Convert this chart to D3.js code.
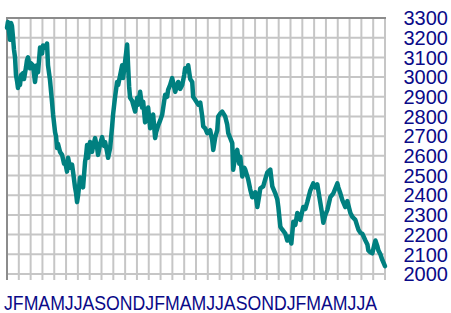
<!DOCTYPE html>
<html>
<head>
<meta charset="utf-8">
<script src="https://cdn.jsdelivr.net/npm/d3@7/dist/d3.min.js"></script>
<style>
  body { margin: 0; background: #fff; }
  svg { display: block; }
</style>
</head>
<body>
<div id="chart"></div>
<script>
// month initials along the bottom, Jan of year 1 .. Aug of year 3
var monthLabels = "JFMAMJJASONDJFMAMJJASONDJFMAMJJA".split("");
var yTicks = [2000, 2100, 2200, 2300, 2400, 2500, 2600, 2700, 2800, 2900, 3000, 3100, 3200, 3300];

// time in months from start of Jan year 1
var months = [0, 0.08, 0.17, 0.25, 0.34, 0.42, 0.51, 0.59, 0.68, 0.76, 0.85, 0.93, 1.02, 1.10, 1.19, 1.36, 1.44, 1.61, 1.69, 1.78,
  1.95, 2.03, 2.20, 2.37, 2.54, 2.63, 2.80, 2.97, 3.05, 3.22, 3.39, 3.47, 3.64, 3.81, 3.90, 4.07, 4.15, 4.24, 4.32, 4.49,
  4.66, 4.83, 4.92, 5.08, 5.17, 5.34, 5.51, 5.59, 5.76, 5.85, 5.93, 6.02, 6.19, 6.27, 6.44, 6.61, 6.69, 6.78, 6.86, 7.03,
  7.20, 7.29, 7.46, 7.63, 7.71, 7.88, 8.05, 8.22, 8.31, 8.47, 8.56, 8.73, 8.90, 8.98, 9.15, 9.32, 9.41, 9.58, 9.75, 9.83,
  10.00, 10.17, 10.25, 10.34, 10.42, 10.59, 10.68, 10.85, 11.02, 11.10, 11.27, 11.44, 11.53, 11.69, 11.86, 11.95, 12.12, 12.29, 12.37, 12.54,
  12.63, 12.80, 12.97, 13.14, 13.31, 13.39, 13.56, 13.64, 13.81, 13.98, 14.15, 14.24, 14.41, 14.49, 14.66, 14.83, 15.00, 15.08, 15.25, 15.34,
  15.51, 15.68, 15.76, 15.93, 16.19, 16.36, 16.53, 16.61, 16.78, 16.95, 17.20, 17.37, 17.46, 17.63, 17.80, 17.88, 18.05, 18.22, 18.47, 18.64,
  18.73, 18.90, 19.07, 19.15, 19.32, 19.49, 19.66, 19.75, 19.92, 20.08, 20.17, 20.42, 20.59, 20.76, 21.02, 21.10, 21.19, 21.36, 21.44, 21.69,
  21.86, 22.03, 22.29, 22.46, 22.71, 22.88, 22.97, 23.14, 23.31, 23.56, 23.73, 23.90, 24.07, 24.24, 24.41, 24.58, 24.83, 25.08, 25.25, 25.42,
  25.68, 25.93, 26.10, 26.27, 26.53, 26.69, 26.78, 26.95, 27.12, 27.37, 27.63, 27.97, 28.05, 28.22, 28.39, 28.64, 28.81, 29.07, 29.24, 29.49,
  29.75, 29.92, 30.08, 30.34, 30.51, 30.59, 30.76, 30.93, 31.10, 31.19, 31.36, 31.44, 31.61, 31.78, 32.00];

var values = [3250, 3280, 3230, 3190, 3275, 3260, 3200, 3140, 3100, 3010, 2980, 2945, 2990, 2960, 3010, 3020, 2990, 3050, 3085, 3100,
  3045, 3070, 3060, 2975, 3060, 3025, 3150, 3120, 3160, 3150, 3170, 3060, 2985, 2875, 2810, 2720, 2700, 2640, 2660, 2620,
  2605, 2560, 2570, 2520, 2590, 2540, 2555, 2520, 2440, 2410, 2365, 2400, 2490, 2460, 2440, 2570, 2600, 2655, 2590, 2670,
  2620, 2650, 2690, 2640, 2605, 2660, 2695, 2650, 2670, 2620, 2590, 2640, 2750, 2810, 2900, 2975, 2960, 3010, 3060, 2995,
  3080, 3165, 3060, 2950, 2895, 2880, 2860, 2825, 2895, 2860, 2925, 2845, 2875, 2770, 2800, 2845, 2740, 2780, 2810, 2690,
  2720, 2755, 2780, 2810, 2880, 2910, 2900, 2935, 2960, 2995, 2950, 2925, 2960, 2975, 2940, 2960, 3010, 3045, 3030, 3060,
  2990, 2975, 2900, 2885, 2860, 2870, 2800, 2750, 2740, 2715, 2730, 2680, 2630, 2695, 2730, 2800, 2815, 2825, 2800, 2760,
  2715, 2690, 2665, 2530, 2600, 2630, 2560, 2595, 2495, 2540, 2530, 2480, 2430, 2390, 2415, 2380, 2340, 2400, 2435, 2445,
  2480, 2515, 2530, 2445, 2410, 2380, 2340, 2240, 2225, 2205, 2170, 2190, 2155, 2265, 2250, 2310, 2275, 2340, 2330, 2365,
  2425, 2460, 2440, 2455, 2360, 2300, 2260, 2300, 2325, 2390, 2410, 2460, 2440, 2410, 2375, 2340, 2370, 2310, 2290, 2275,
  2225, 2210, 2205, 2170, 2150, 2120, 2110, 2105, 2150, 2170, 2140, 2120, 2100, 2070, 2040];

var width = 451, height = 313;
var plotLeft = 7, plotRight = 385, plotTop = 18, plotBottom = 274;

var svg = d3.select("#chart").append("svg")
  .attr("width", width)
  .attr("height", height);

var x = d3.scaleLinear().domain([0, monthLabels.length]).range([plotLeft, plotRight]);
var y = d3.scaleLinear().domain([2000, 3300]).range([plotBottom, plotTop]);

var grid = svg.append("g").attr("stroke", "#c6c6c6").attr("stroke-width", 2);

// vertical month lines, running down past the bottom as ticks
grid.selectAll("line.v")
  .data(d3.range(1, monthLabels.length + 1))
  .enter().append("line")
  .attr("class", "v")
  .attr("x1", function (d) { return x(d); })
  .attr("x2", function (d) { return x(d); })
  .attr("y1", plotTop)
  .attr("y2", plotBottom + 6);

grid.selectAll("line.h")
  .data(yTicks.slice(0, -1))
  .enter().append("line")
  .attr("class", "h")
  .attr("x1", plotLeft)
  .attr("x2", plotRight)
  .attr("y1", function (d) { return y(d); })
  .attr("y2", function (d) { return y(d); });

// darker frame on the left and top
svg.append("line")
  .attr("x1", plotLeft).attr("x2", plotLeft)
  .attr("y1", plotTop - 1).attr("y2", plotBottom + 6)
  .attr("stroke", "#8c8c8c").attr("stroke-width", 2);
svg.append("line")
  .attr("x1", plotLeft).attr("x2", plotRight + 1)
  .attr("y1", plotTop).attr("y2", plotTop)
  .attr("stroke", "#8c8c8c").attr("stroke-width", 2);

var line = d3.line()
  .x(function (d, i) { return x(months[i]); })
  .y(function (d) { return y(d); });

svg.append("path")
  .datum(values)
  .attr("d", line)
  .attr("fill", "none")
  .attr("stroke", "#008080")
  .attr("stroke-width", 4.5)
  .attr("stroke-linejoin", "round")
  .attr("stroke-linecap", "round");

svg.append("g").selectAll("text")
  .data(yTicks)
  .enter().append("text")
  .attr("x", 448)
  .attr("y", function (d) { return y(d); })
  .attr("dy", "0.36em")
  .attr("text-anchor", "end")
  .attr("font-family", "Liberation Sans, Arial, sans-serif")
  .attr("font-size", 20)
  .attr("fill", "#0a0a88")
  .text(function (d) { return d; });

svg.append("text")
  .attr("x", 4)
  .attr("y", 310)
  .attr("font-family", "Liberation Sans, Arial, sans-serif")
  .attr("font-size", 21)
  .attr("fill", "#0a0a88")
  .attr("textLength", 373)
  .attr("lengthAdjust", "spacingAndGlyphs")
  .text(monthLabels.join(""));
</script>
</body>
</html>
